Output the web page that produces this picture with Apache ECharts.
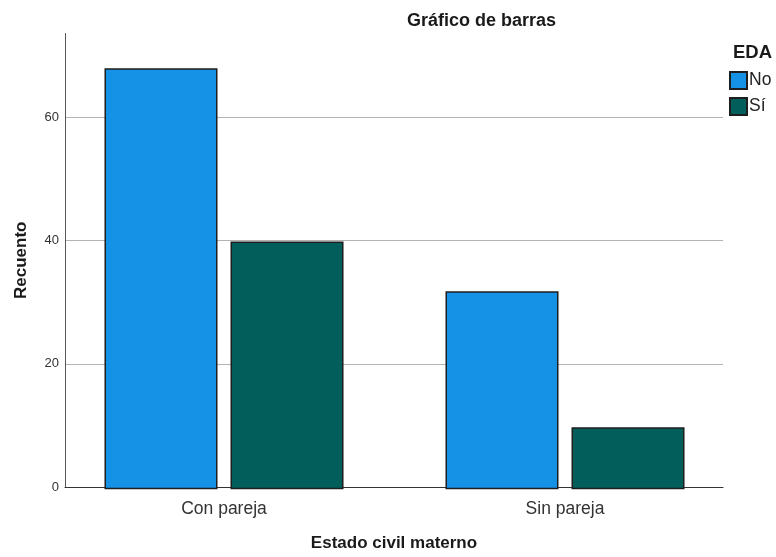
<!DOCTYPE html>
<html>
<head>
<meta charset="utf-8">
<script src="https://cdn.jsdelivr.net/npm/echarts@6/dist/echarts.min.js"></script>
<style>
html,body{margin:0;padding:0;background:#fff;}
#chart{width:776px;height:557px;}
</style>
</head>
<body>
<div id="chart"></div>
<script>
const categories = ['Con pareja', 'Sin pareja'];
const seriesNames = ['No', 'Sí'];
const valuesNo = [68, 32];
const valuesSi = [40, 10];
const yTicks = [0, 20, 40, 60];

const FONT = 'Liberation Sans, Arial, sans-serif';
const chart = echarts.init(document.getElementById('chart'));
const yMax = 73.6;

chart.setOption({
  backgroundColor: '#ffffff',
  animation: false,
  title: [
    { text: 'Gráfico de barras', left: 407, top: 12, padding: 0,
      textStyle: { fontFamily: FONT, fontSize: 18, fontWeight: 'bold', color: '#1a1a1a' } },
    { text: 'EDA', left: 733, top: 43, padding: 0,
      textStyle: { fontFamily: FONT, fontSize: 18.5, fontWeight: 'bold', color: '#1a1a1a' } }
  ],
  legend: {
    orient: 'vertical', left: 729, top: 71, padding: 0,
    itemWidth: 17, itemHeight: 17, itemGap: 7, icon: 'rect',
    selectedMode: false,
    data: seriesNames,
    textStyle: { fontFamily: FONT, fontSize: 17.5, color: '#222', padding: [0, 0, 0, -3] }
  },
  grid: [
    { left: 65, right: 53, top: 33.5, bottom: 67.7, containLabel: false },
    { left: 53.5, right: 40.5, top: 33.5, bottom: 67.7, containLabel: false }
  ],
  xAxis: [
    { type: 'category', gridIndex: 0, data: categories,
      axisLine: { show: true, lineStyle: { color: '#333', width: 1 } },
      axisTick: { show: false }, axisLabel: { show: false },
      name: 'Estado civil materno', nameLocation: 'middle', nameGap: 48,
      nameTextStyle: { fontFamily: FONT, fontSize: 17, fontWeight: 'bold', color: '#1a1a1a' } },
    { type: 'category', gridIndex: 1, data: categories,
      axisLine: { show: false }, axisTick: { show: false },
      axisLabel: { margin: 11, fontFamily: FONT, fontSize: 17.5, color: '#333' } }
  ],
  yAxis: [
    { type: 'value', gridIndex: 0, min: 0, max: yMax, interval: 20,
      axisLine: { show: true, lineStyle: { color: '#555', width: 1 } },
      axisTick: { show: false },
      axisLabel: { margin: 6, fontFamily: FONT, fontSize: 13, color: '#333',
        formatter: v => (yTicks.indexOf(v) >= 0 ? String(v) : '') , showMaxLabel: false },
      splitLine: { show: true, showMaxLine: false, lineStyle: { color: '#b3b3b3', width: 1 } },
      name: 'Recuento', nameLocation: 'middle', nameRotate: 90, nameGap: 35,
      nameTextStyle: { fontFamily: FONT, fontSize: 17, fontWeight: 'bold', color: '#1a1a1a' } },
    { type: 'value', gridIndex: 1, min: 0, max: yMax, interval: 20, show: false,
      splitLine: { show: false } }
  ],
  series: [
    { name: seriesNames[0], type: 'bar', xAxisIndex: 1, yAxisIndex: 1, data: valuesNo,
      barGap: '11.5%', barCategoryGap: '29.9%',
      itemStyle: { color: '#1591e6', borderColor: '#1e1e1e', borderWidth: 1.5 } },
    { name: seriesNames[1], type: 'bar', xAxisIndex: 1, yAxisIndex: 1, data: valuesSi,
      barGap: '11.5%', barCategoryGap: '29.9%',
      itemStyle: { color: '#015e5a', borderColor: '#1e1e1e', borderWidth: 1.5 } }
  ]
});
</script>
</body>
</html>
